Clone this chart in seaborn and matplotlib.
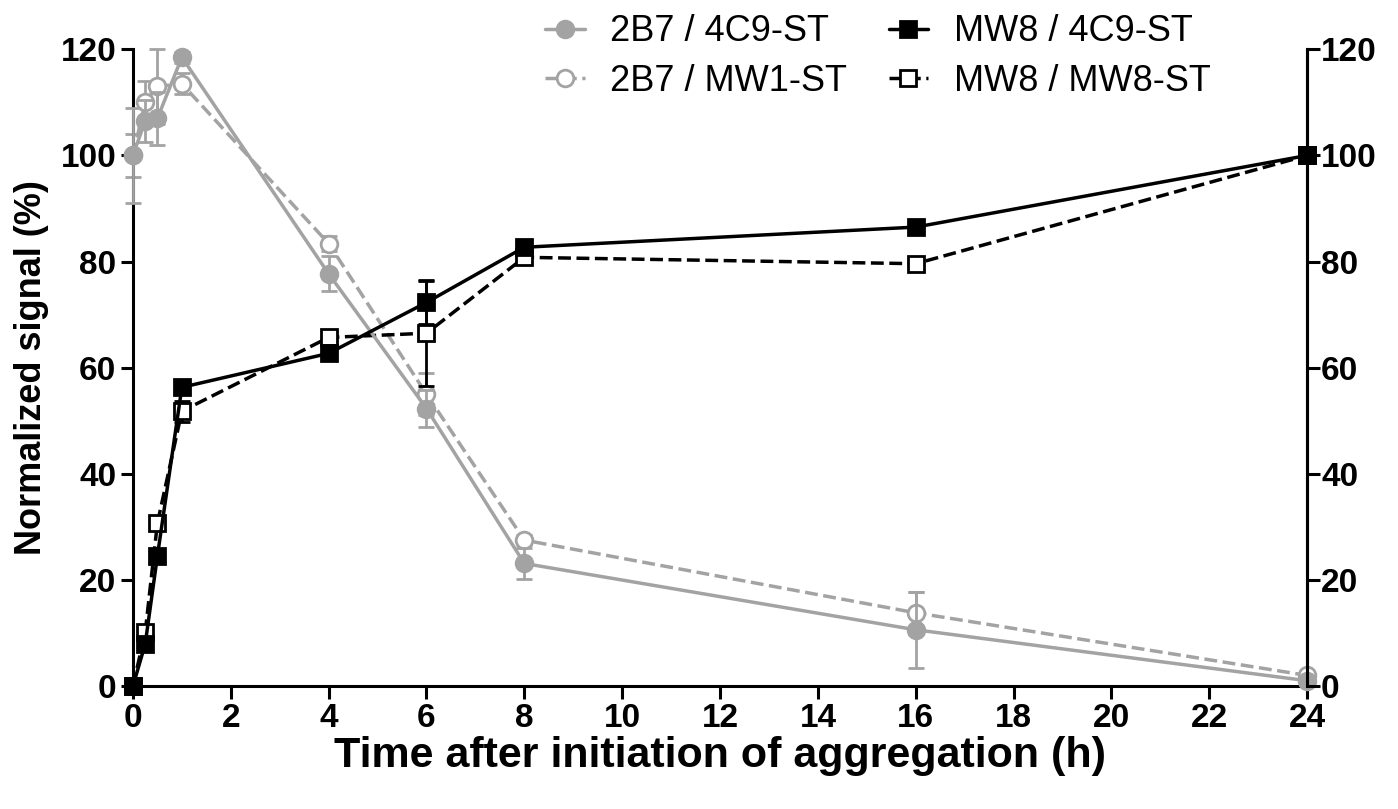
import numpy as np
import pandas as pd
import matplotlib
matplotlib.use('Agg')
import matplotlib.pyplot as plt
import seaborn as sns

# time points (h)
time_h = [0, 0.25, 0.5, 1, 4, 6, 8, 16, 24]

# normalized signal (%) and SEM
b2_4c9 = [100, 106.5, 107, 118.5, 77.7, 52.3, 23.1, 10.6, 1.0]
b2_4c9_err = [9, 4, 5, 1, 3.3, 3.5, 3.0, 7.2, 0.5]
b2_mw1 = [100, 110, 113, 113.5, 83.4, 55.0, 27.5, 13.8, 2.0]
b2_mw1_err = [4, 4, 7, 2, 1.5, 4.0, 1.0, 4.0, 0.5]
mw8_4c9 = [0, 7.9, 24.5, 56.3, 62.7, 72.3, 82.7, 86.5, 100]
mw8_4c9_err = [0, 1, 1, 1, 1, 4.0, 1, 1, 0.5]
mw8_mw8 = [0, 10.1, 30.7, 51.8, 65.7, 66.5, 80.8, 79.6, 100]
mw8_mw8_err = [0, 1, 1, 2, 1, 10, 1, 1, 0.5]

legend_order = ['2B7 / 4C9-ST', '2B7 / MW1-ST', 'MW8 / 4C9-ST', 'MW8 / MW8-ST']

grey = '#a3a3a3'
# drawn open ones first so filled markers sit on top
series = [
    ('2B7 / MW1-ST', b2_mw1, b2_mw1_err, grey, 'o', 'white', '--'),
    ('MW8 / MW8-ST', mw8_mw8, mw8_mw8_err, 'black', 's', 'white', '--'),
    ('2B7 / 4C9-ST', b2_4c9, b2_4c9_err, grey, 'o', grey, '-'),
    ('MW8 / 4C9-ST', mw8_4c9, mw8_4c9_err, 'black', 's', 'black', '-'),
]

sns.set_theme(style='ticks')
plt.rcParams['font.family'] = ['Liberation Sans', 'DejaVu Sans']
for k in ['text.color', 'axes.labelcolor', 'xtick.color', 'ytick.color', 'axes.edgecolor']:
    plt.rcParams[k] = 'black'

fig = plt.figure(figsize=(13.98, 8.09), dpi=100)
ax = fig.add_axes([0.0951, 0.152, 0.8399, 0.787])

for i, (name, vals, err, col, mk, face, ls) in enumerate(series):
    df = pd.DataFrame({'t': time_h, 'v': vals})
    ax.errorbar(time_h, vals, yerr=err, fmt='none', ecolor=col,
                elinewidth=2, capsize=6, capthick=2, clip_on=False, zorder=2 + i)
    kw = dict(dashes=(4.5, 2.7)) if ls == '--' else {}
    sns.lineplot(data=df, x='t', y='v', ax=ax, color=col, linestyle=ls,
                 linewidth=2.5, marker=mk, markersize=12,
                 markerfacecolor=face, markeredgecolor=col, markeredgewidth=2,
                 label=name, clip_on=False, zorder=2.5 + i, **kw)

ax.set_xlim(0, 24)
ax.set_ylim(0, 120)
ax.set_xticks(np.arange(0, 25, 2))
ax.set_yticks(np.arange(0, 121, 20))
ax.set_xlabel('Time after initiation of aggregation (h)', fontsize=31,
              fontweight='bold', labelpad=1)
ax.set_ylabel('Normalized signal (%)', fontsize=26, fontweight='bold',
              labelpad=8)

ax2 = ax.twinx()
ax2.set_ylim(0, 120)
ax2.set_yticks(np.arange(0, 121, 20))

for a in (ax, ax2):
    a.spines['top'].set_visible(False)
    for s in a.spines.values():
        s.set_linewidth(2.2)
    a.tick_params(width=2.2, length=9, labelsize=24)
    for lbl in a.get_xticklabels() + a.get_yticklabels():
        lbl.set_fontweight('bold')
ax2.spines['left'].set_visible(False)
ax2.spines['bottom'].set_visible(False)
ax.tick_params(axis='y', pad=3)
ax2.tick_params(axis='y', pad=1)

handles, labels = ax.get_legend_handles_labels()
hmap = dict(zip(labels, handles))
ax.legend([hmap[n] for n in legend_order], legend_order,
          ncol=2, frameon=False, fontsize=26, handlelength=1.1,
          handletextpad=0.7, columnspacing=1.15, labelspacing=0.4,
          borderpad=0, borderaxespad=0,
          loc='upper left', bbox_to_anchor=(0.351, 1.055))

fig.savefig('out.png', dpi=100)
